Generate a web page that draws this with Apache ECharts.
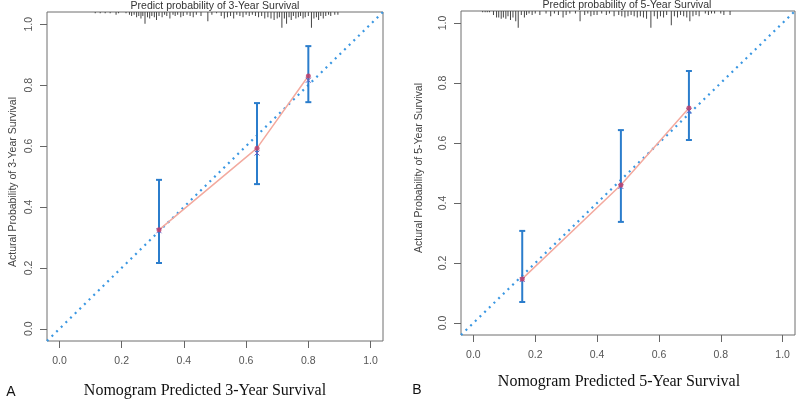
<!DOCTYPE html>
<html><head><meta charset="utf-8">
<script src="https://cdn.jsdelivr.net/npm/echarts@6/dist/echarts.min.js"></script>
<style>html,body{margin:0;padding:0;background:#fff}#c{width:800px;height:403px}</style>
</head><body><div id="c"></div>
<script>
// Tick labels
const ticks = [0, 0.2, 0.4, 0.6, 0.8, 1.0];
// Panel A (3-year)
const predA = [0.32, 0.635, 0.80];
const obsA = [0.325, 0.593, 0.83];
const xmarkA = [0.322, 0.577, 0.816];
const loA = [0.216, 0.475, 0.744];
const hiA = [0.489, 0.741, 0.928];
const rugAx = [0.115,0.131,0.147,0.163,0.182,0.19,0.214,0.225,0.232,0.24,0.248,0.255,0.262,0.268,0.275,0.283,0.29,0.297,0.305,0.312,0.32,0.33,0.338,0.345,0.355,0.365,0.372,0.38,0.39,0.398,0.41,0.42,0.43,0.44,0.455,0.477,0.49,0.505,0.52,0.53,0.54,0.55,0.56,0.57,0.58,0.59,0.6,0.61,0.62,0.63,0.64,0.65,0.66,0.67,0.68,0.69,0.70,0.707,0.715,0.723,0.73,0.738,0.745,0.752,0.76,0.768,0.775,0.783,0.79,0.80,0.81,0.818,0.826,0.833,0.84,0.848,0.856,0.865,0.872,0.885,0.895];
const rugAn = [1,1,1,1,2,1,1,2,3,2,4,3,5,3,9,4,5,3,4,6,3,4,2,3,5,2,3,2,4,3,2,3,4,2,3,7,2,1,3,5,4,3,5,2,3,4,2,3,2,3,4,3,5,4,5,6,5,4,12,5,9,4,6,3,5,4,3,5,4,3,12,5,4,6,3,5,3,2,3,2,2];
// Panel B (5-year)
const predB = [0.158, 0.477, 0.697];
const obsB = [0.147, 0.46, 0.717];
const xmarkB = [0.145, 0.455, 0.707];
const loB = [0.07, 0.337, 0.61];
const hiB = [0.307, 0.643, 0.84];
const rugBx = [0.03,0.038,0.045,0.052,0.065,0.075,0.082,0.09,0.097,0.105,0.112,0.12,0.128,0.137,0.145,0.155,0.165,0.172,0.18,0.19,0.2,0.215,0.235,0.25,0.262,0.275,0.29,0.3,0.312,0.33,0.345,0.36,0.37,0.38,0.39,0.4,0.415,0.43,0.44,0.455,0.47,0.48,0.49,0.5,0.51,0.52,0.53,0.54,0.55,0.56,0.574,0.585,0.595,0.605,0.615,0.625,0.64,0.65,0.66,0.67,0.68,0.69,0.70,0.71,0.72,0.73,0.75,0.76,0.77,0.78,0.8,0.81,0.83];
const rugBn = [1,1,1,1,3,5,5,6,5,6,4,7,5,8,13,3,5,3,2,3,2,3,2,4,2,3,5,3,2,2,8,3,2,4,3,3,2,3,2,4,3,4,5,4,3,4,5,4,5,6,13,4,6,4,5,3,11,4,5,3,4,5,8,4,3,4,2,3,2,2,2,3,3];
const diag = [[-0.04,-0.04],[1.04,1.04]];

const blue = '#2b7dcc';
const dotBlue = '#3a97e2';
const salmon = '#f3aa9f';

function xAx(g){
  return {gridIndex:g,type:'value',min:-0.04,max:1.04,
    axisLine:{show:false,onZero:false},splitLine:{show:false},
    axisTick:{show:true,customValues:ticks,length:7,lineStyle:{color:'#666'}},
    axisLabel:{customValues:ticks,formatter:v=>v.toFixed(1),margin:15,color:'#555',fontSize:10.5,fontFamily:'Liberation Sans'}};
}
function yAx(g){
  return {gridIndex:g,type:'value',min:-0.04,max:1.04,
    axisLine:{show:false,onZero:false},splitLine:{show:false},
    axisTick:{show:true,customValues:ticks,length:7,lineStyle:{color:'#666'}},
    axisLabel:{customValues:ticks,formatter:v=>v.toFixed(1),margin:12,rotate:90,color:'#555',fontSize:10.5,fontFamily:'Liberation Sans'}};
}
function rugAxis(g){
  return {gridIndex:g,type:'value',min:0,max:250,inverse:true,show:false,
    axisLine:{show:false,onZero:false},splitLine:{show:false},axisTick:{show:false},axisLabel:{show:false}};
}
function errSeries(xi,yi,pred,lo,hi,xm){
  return {type:'custom',xAxisIndex:xi,yAxisIndex:yi,z:5,
    data:pred.map((p,i)=>[p,lo[i],hi[i],xm[i]]),
    renderItem:function(params,api){
      const top=api.coord([api.value(0),api.value(2)]);
      const bot=api.coord([api.value(0),api.value(1)]);
      const xm=api.coord([api.value(0),api.value(3)]);
      const st={stroke:blue,lineWidth:2};
      const cs={stroke:'#6b5fc0',lineWidth:1};
      return {type:'group',children:[
        {type:'line',shape:{x1:top[0],y1:top[1],x2:bot[0],y2:bot[1]},style:st},
        {type:'line',shape:{x1:top[0]-3,y1:top[1],x2:top[0]+3,y2:top[1]},style:st},
        {type:'line',shape:{x1:bot[0]-3,y1:bot[1],x2:bot[0]+3,y2:bot[1]},style:st},
        {type:'line',shape:{x1:xm[0]-2.5,y1:xm[1]-2.5,x2:xm[0]+2.5,y2:xm[1]+2.5},style:cs},
        {type:'line',shape:{x1:xm[0]-2.5,y1:xm[1]+2.5,x2:xm[0]+2.5,y2:xm[1]-2.5},style:cs}
      ]};
    }};
}
function panelSeries(xi,yi,ri,pred,obs,lo,hi,xm,rx,rn){
  return [
    {type:'bar',xAxisIndex:xi,yAxisIndex:ri,data:rx.map((x,i)=>[x,rn[i]]),barWidth:1,barGap:'-100%',
     itemStyle:{color:'#444'},silent:true,z:1},
    {type:'line',xAxisIndex:xi,yAxisIndex:yi,data:diag,symbol:'none',z:2,
     lineStyle:{color:dotBlue,width:2.2,type:[2,4.5]}},
    {type:'line',xAxisIndex:xi,yAxisIndex:yi,data:pred.map((p,i)=>[p,obs[i]]),symbol:'none',z:3,
     lineStyle:{color:salmon,width:1.5}},
    errSeries(xi,yi,pred,lo,hi,xm),
    {type:'scatter',xAxisIndex:xi,yAxisIndex:yi,data:pred.map((p,i)=>[p,obs[i]]),symbol:'circle',symbolSize:5,z:6,
     itemStyle:{color:'#c0406a',opacity:0.85}}
  ];
}

const chart = echarts.init(document.getElementById('c'),null,{renderer:'canvas'});
chart.setOption({
  animation:false,
  backgroundColor:'#fff',
  grid:[
    {left:47,top:12,width:336,height:329,show:true,borderColor:'#6e6e6e',borderWidth:1,backgroundColor:'transparent'},
    {left:461,top:11,width:334,height:324,show:true,borderColor:'#6e6e6e',borderWidth:1,backgroundColor:'transparent'}
  ],
  xAxis:[xAx(0),xAx(1)],
  yAxis:[yAx(0),yAx(1),rugAxis(0),rugAxis(1)],
  series:[].concat(
    panelSeries(0,0,2,predA,obsA,loA,hiA,xmarkA,rugAx,rugAn),
    panelSeries(1,1,3,predB,obsB,loB,hiB,xmarkB,rugBx,rugBn)
  ),
  graphic:[
    {type:'text',style:{text:'Predict probability of 3-Year Survival',x:215,y:6,align:'center',verticalAlign:'middle',fill:'#333',font:'10.5px "Liberation Sans"'}},
    {type:'text',style:{text:'Predict probability of 5-Year Survival',x:627,y:5,align:'center',verticalAlign:'middle',fill:'#333',font:'10.5px "Liberation Sans"'}},
    {type:'text',x:13,y:182,rotation:Math.PI/2,style:{text:'Actural Probability of 3-Year Survival',x:0,y:0,align:'center',verticalAlign:'middle',fill:'#444',font:'10.5px "Liberation Sans"'}},
    {type:'text',x:419,y:168,rotation:Math.PI/2,style:{text:'Actural Probability of 5-Year Survival',x:0,y:0,align:'center',verticalAlign:'middle',fill:'#444',font:'10.5px "Liberation Sans"'}},
    {type:'text',style:{text:'Nomogram Predicted 3-Year Survival',x:205,y:391,align:'center',verticalAlign:'middle',fill:'#111',font:'16px "Liberation Serif"'}},
    {type:'text',style:{text:'Nomogram Predicted 5-Year Survival',x:619,y:382,align:'center',verticalAlign:'middle',fill:'#111',font:'16px "Liberation Serif"'}},
    {type:'text',style:{text:'A',x:11,y:392,align:'center',verticalAlign:'middle',fill:'#111',font:'14px "Liberation Sans"'}},
    {type:'text',style:{text:'B',x:417,y:390,align:'center',verticalAlign:'middle',fill:'#111',font:'14px "Liberation Sans"'}}
  ]
});
</script></body></html>
